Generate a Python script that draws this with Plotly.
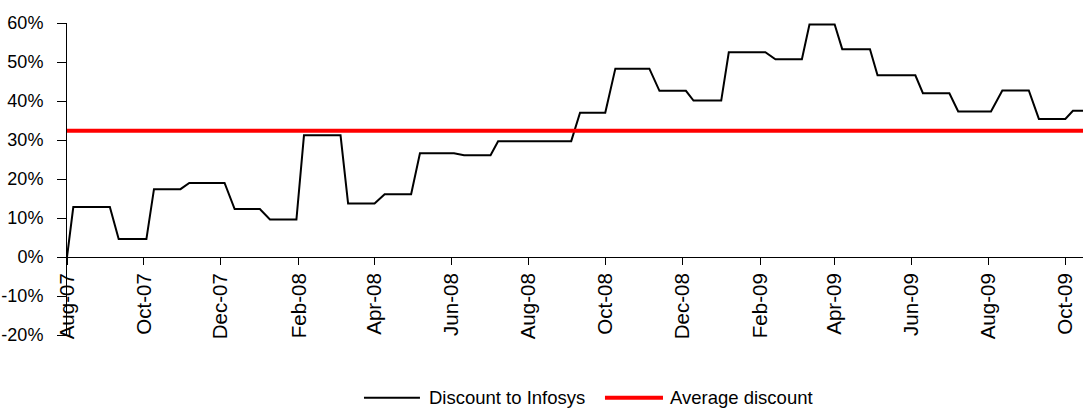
import plotly.graph_objects as go

# Corner points of the weekly discount series (Infosys vs. peer)
dates = [
    "2007-08-01", "2007-08-06", "2007-09-04", "2007-09-11", "2007-10-03",
    "2007-10-09", "2007-10-30", "2007-11-06", "2007-12-04", "2007-12-12",
    "2008-01-01", "2008-01-09", "2008-01-30", "2008-02-05", "2008-03-05",
    "2008-03-11", "2008-04-01", "2008-04-09", "2008-04-30", "2008-05-07",
    "2008-06-03", "2008-06-11", "2008-07-02", "2008-07-08", "2008-09-04",
    "2008-09-11", "2008-10-01", "2008-10-09", "2008-11-05", "2008-11-13",
    "2008-12-04", "2008-12-10", "2009-01-01", "2009-01-07", "2009-02-05",
    "2009-02-13", "2009-03-06", "2009-03-12", "2009-04-01", "2009-04-07",
    "2009-04-29", "2009-05-05", "2009-06-04", "2009-06-10", "2009-07-01",
    "2009-07-08", "2009-08-03", "2009-08-12", "2009-09-02", "2009-09-10",
    "2009-10-01", "2009-10-07", "2009-10-15",
]
discount = [
    0.000, 0.128, 0.128, 0.046, 0.046,
    0.174, 0.174, 0.190, 0.190, 0.123,
    0.123, 0.096, 0.096, 0.312, 0.312,
    0.137, 0.137, 0.161, 0.161, 0.266,
    0.266, 0.261, 0.261, 0.297, 0.297,
    0.370, 0.370, 0.483, 0.483, 0.426,
    0.426, 0.401, 0.401, 0.525, 0.525,
    0.507, 0.507, 0.596, 0.596, 0.533,
    0.533, 0.466, 0.466, 0.420, 0.420,
    0.373, 0.373, 0.427, 0.427, 0.354,
    0.354, 0.375, 0.375,
]
average_discount = 0.324

y_ticks = [-0.2, -0.1, 0.0, 0.1, 0.2, 0.3, 0.4, 0.5, 0.6]
y_tick_text = ["-20%", "-10%", "0%", "10%", "20%", "30%", "40%", "50%", "60%"]

series_names = ["Discount to Infosys", "Average discount"]
series_colors = ["#000000", "#FF0000"]
series_widths = [2, 4]

font_family = "Liberation Sans, Arial, sans-serif"

fig = go.Figure()
fig.add_trace(go.Scatter(
    x=dates, y=discount, mode="lines", name=series_names[0],
    line=dict(color=series_colors[0], width=series_widths[0]),
))
fig.add_trace(go.Scatter(
    x=[dates[0], dates[-1]], y=[average_discount, average_discount],
    mode="lines", name=series_names[1],
    line=dict(color=series_colors[1], width=series_widths[1]),
))

# Legend below the plot: a line sample followed by its label for each series
legend_y = -0.201
legend_items = [(0.2923, 0.3474, 0.3543), (0.5295, 0.5866, 0.5915)]
for (x0, x1, xt), name, color, width in zip(legend_items, series_names,
                                            series_colors, series_widths):
    fig.add_shape(type="line", xref="paper", yref="paper",
                  x0=x0, x1=x1, y0=legend_y, y1=legend_y,
                  line=dict(color=color, width=width))
    fig.add_annotation(text=name, xref="paper", yref="paper",
                       x=xt, y=legend_y, xanchor="left", yanchor="middle",
                       showarrow=False, font=dict(size=18.5, color="#000000"))

fig.update_layout(
    width=1083, height=410,
    margin=dict(l=67, r=0, t=23, b=75),
    paper_bgcolor="white", plot_bgcolor="white",
    font=dict(family=font_family, size=18, color="#000000"),
    showlegend=False,
    xaxis=dict(
        type="date",
        range=[dates[0], dates[-1]],
        anchor="free", position=0.25,
        tick0="2007-08-01", dtick="M2", tickformat="%b-%y",
        tickangle=-90,
        ticks="outside", ticklen=7, tickcolor="#000000",
        showline=True, linecolor="#000000", linewidth=1,
        showgrid=False, zeroline=False,
        tickfont=dict(size=20.5),
    ),
    yaxis=dict(
        range=[-0.2, 0.6],
        tickvals=y_ticks, ticktext=y_tick_text,
        ticks="outside", ticklen=9, tickcolor="#000000",
        ticklabelstandoff=10,
        showline=True, linecolor="#000000", linewidth=1,
        showgrid=False, zeroline=False,
        tickfont=dict(size=18),
    ),
)

fig.write_html("out.html")
